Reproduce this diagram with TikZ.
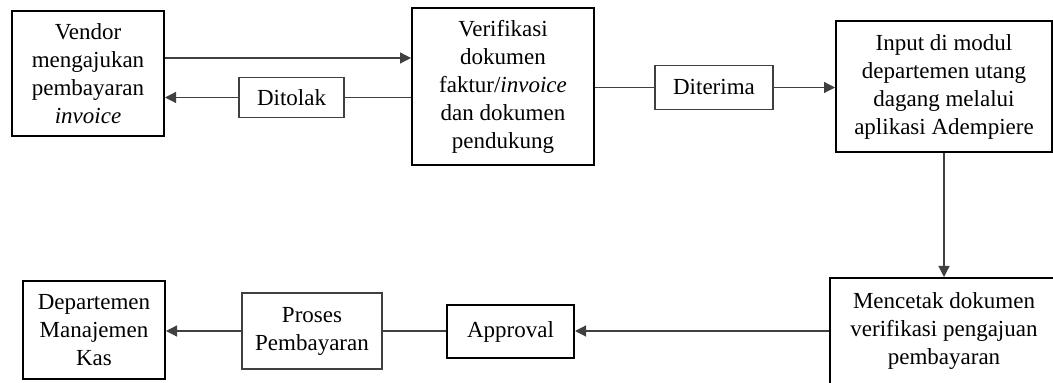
\documentclass[tikz,border=0pt]{standalone}
\usepackage{fontspec}
\setmainfont{Liberation Serif}
\usetikzlibrary{arrows.meta}
\begin{document}
\begin{tikzpicture}[x=0.5pt,y=-0.5pt,
  every node/.style={font=\fontsize{11.5}{14}\selectfont, align=center, inner sep=0pt},
  mainbox/.style={draw=black, line width=1pt},
  labelbox/.style={draw=black!75, line width=0.6pt},
  conn/.style={draw=black!75, line width=0.6pt},
  arr/.style={conn, -{Triangle[length=5.5pt,width=5.5pt]}}]
\useasboundingbox (0,0) rectangle (1053,383);

% main boxes
\node[mainbox, minimum width=76pt, minimum height=62.5pt] (vendor) at (88,73.5)
  {Vendor\\mengajukan\\pembayaran\\\textit{invoice}};
\node[mainbox, minimum width=91pt, minimum height=78.5pt] (verif) at (503,86.5)
  {Verifikasi\\dokumen\\faktur/\textit{invoice}\\dan dokumen\\pendukung};
\node[mainbox, minimum width=108pt, minimum height=65.5pt] (input) at (944,86.5)
  {Input di modul\\departemen utang\\dagang melalui\\aplikasi Adempiere};
\node[mainbox, minimum width=114pt, minimum height=53pt] (cetak) at (944,331)
  {\raisebox{1.5pt}{\begin{tabular}{@{}c@{}}Mencetak dokumen\\verifikasi pengajuan\\pembayaran\end{tabular}}};
\node[mainbox, minimum width=63.5pt, minimum height=26.5pt] (approval) at (510.5,331.5)
  {Approval};
\node[mainbox, minimum width=71pt, minimum height=49pt] (dept) at (94,330)
  {Departemen\\Manajemen\\Kas};

% label boxes
\node[labelbox, minimum width=52.5pt, minimum height=20pt] (tolak) at (291.5,97.5) {Ditolak};
\node[labelbox, minimum width=59pt, minimum height=22pt] (terima) at (714,87.5) {Diterima};
\node[labelbox, minimum width=70pt, minimum height=38pt] (proses) at (312,331) {Proses\\Pembayaran};

% connectors
\coordinate (topline) at (0,58);
\draw[arr] (vendor.east |- topline) -- (verif.west |- topline);
\draw[conn] (verif.west |- tolak) -- (tolak.east);
\draw[arr] (tolak.west) -- (vendor.east |- tolak);
\draw[conn] (verif.east |- terima) -- (terima.west);
\draw[arr] (terima.east) -- (input.west |- terima);
\draw[arr] (input.south) -- (cetak.north);
\draw[arr] (cetak.west) -- (approval.east |- cetak.west);
\draw[conn] (approval.west |- cetak.west) -- (proses.east |- cetak.west);
\draw[arr] (proses.west |- cetak.west) -- (dept.east |- cetak.west);
\end{tikzpicture}
\end{document}
